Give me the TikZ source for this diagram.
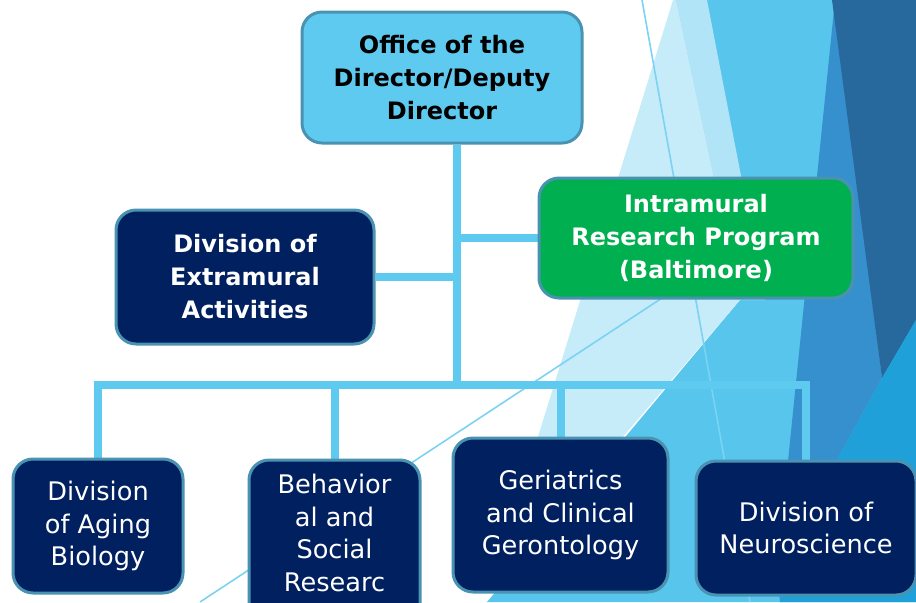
\documentclass[tikz,border=0pt]{standalone}
\usepackage{fontspec}
\setmainfont{DejaVu Sans}
\usetikzlibrary{positioning}

\definecolor{skyfill}{HTML}{5FCAEF}
\definecolor{irpgreen}{HTML}{00B050}
\definecolor{navy}{HTML}{002060}
\definecolor{edgeteal}{HTML}{4A92B2}
\definecolor{linkblue}{HTML}{5FCAEF}
\definecolor{facetbase}{HTML}{58C5EC}
\definecolor{facetpale}{HTML}{C6ECF9}
\definecolor{facetband}{HTML}{B1E4F6}
\definecolor{facetmid}{HTML}{3690CD}
\definecolor{facetdark}{HTML}{28699D}
\definecolor{facetdeep}{HTML}{1FA0D8}
\definecolor{facetline}{HTML}{7CD2F2}

\pgfdeclarelayer{back}
\pgfsetlayers{back,main}

\begin{document}
\begin{tikzpicture}[x=0.5pt,y=-0.5pt,
    unit/.style={draw=edgeteal, line width=1.5pt, rounded corners=10pt,
        align=center, inner sep=0pt, text=white,
        font=\bfseries\fontsize{12}{16.5}\selectfont},
    division/.style={unit, fill=navy, font=\fontsize{12.8}{16.3}\selectfont},
    link/.style={draw=linkblue, line width=4pt}]

    \useasboundingbox (0,0) rectangle (916,602);

    % background facets
    \begin{pgfonlayer}{back}
    \fill[facetbase] (676,0) -- (916,0) -- (916,602) -- (487,602) -- (740,300) -- cycle;
    \fill[facetpale] (673,0) -- (676,0) -- (740,300) -- (490,592) -- cycle;
    \fill[facetband] (676,0) -- (707,0) -- (765,300) -- (740,300) -- cycle;
    \fill[facetmid] (835,0) -- (882,378) -- (777,569) -- cycle;
    \fill[facetdark] (832,0) -- (916,0) -- (916,320) -- (882,378) -- cycle;
    \fill[facetdeep] (882,378) -- (916,320) -- (916,602) -- (780,602) -- (777,569) -- cycle;
    \draw[facetline, line width=0.8pt] (642,0) -- (750,602);
    \draw[facetline, line width=0.8pt] (700,273) -- (200,602);
    \end{pgfonlayer}

    % director and the two programs
    \node[unit, fill=skyfill, text=black, minimum width=140pt, minimum height=65.5pt]
        (office) at (442,77.5) {Office of the\\Director/Deputy\\Director};
    \node[unit, fill=irpgreen, minimum width=157pt, minimum height=60pt]
        (irp) at (696,238) {Intramural\\Research Program\\(Baltimore)};
    \node[unit, fill=navy, minimum width=129pt, minimum height=67pt]
        (dea) at (245,277) {Division of\\Extramural\\Activities};

    % divisions
    \node[division, minimum width=85pt, minimum height=67pt]
        (dab) at (98,526) {Division\\of Aging\\Biology};
    \node[division, minimum width=85.5pt, minimum height=89pt]
        (dbsr) at (334.5,549) {Behavior\\al and\\Social\\Researc\\h};
    \node[division, minimum width=107.5pt, minimum height=77pt]
        (dgcg) at (560.5,515) {Geriatrics\\and Clinical\\Gerontology};
    \node[division, minimum width=110pt, minimum height=67pt]
        (dn) at (806,528) {Division of\\Neuroscience};

    % connectors
    \coordinate (hub) at (457,385);
    \begin{pgfonlayer}{back}
    \draw[link] (office.south -| hub) -- (hub);
    \draw[link] (hub |- irp.west) -- (irp.west);
    \draw[link] (dea.east) -- (dea.east -| hub);
    \draw[link] (dab.north) |- (hub) -| (dn.north);
    \draw[link] (hub -| dbsr.north) -- (dbsr.north);
    \draw[link] (hub -| dgcg.north) -- (dgcg.north);
    \end{pgfonlayer}
\end{tikzpicture}
\end{document}
